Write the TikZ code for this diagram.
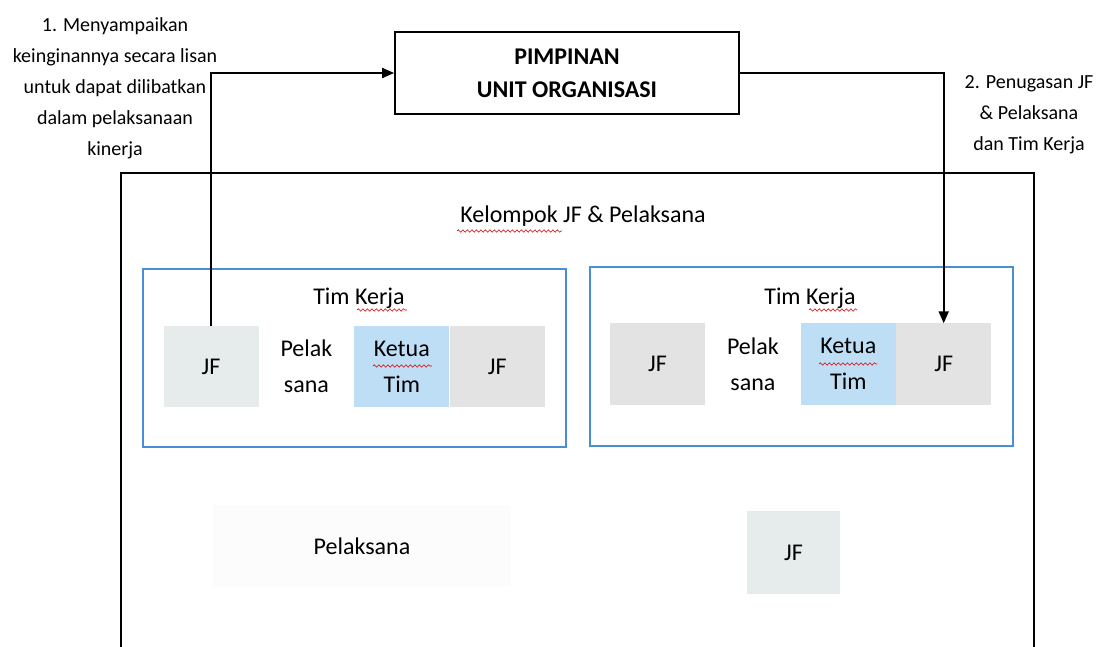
\documentclass[tikz,border=0pt]{standalone}
\usepackage{fontspec}
\setmainfont{Carlito}
\usetikzlibrary{arrows.meta,positioning,decorations.pathmorphing}
\definecolor{timblue}{HTML}{4A8FD6}
\definecolor{jfgrey}{HTML}{E6EBEB}
\definecolor{jfgreytwo}{HTML}{E3E3E3}
\definecolor{ketuablue}{HTML}{BEDEF6}
\tikzset{
    %Define standard arrow tip
    >={Triangle[length=12pt,width=10pt]},
    %Define style for boxes
    pimpinan/.style={
           rectangle,
           draw=black, line width=1.8pt,
           minimum width=344pt,
           minimum height=82pt,
           font=\fontsize{24}{33}\selectfont\bfseries,
           align=center},
    timbox/.style={
           rectangle,
           draw=timblue, line width=2pt,
           minimum width=423pt,
           minimum height=178pt},
    cell/.style={
           rectangle,
           inner sep=0pt,
           minimum width=95pt,
           minimum height=81pt,
           font=\fontsize{24}{36}\selectfont,
           align=center},
    jfcell/.style={cell, fill=jfgrey},
    jfcelltwo/.style={cell, fill=jfgreytwo},
    ketuacell/.style={cell, fill=ketuablue},
    judul/.style={
           font=\fontsize{24}{30}\selectfont},
    note/.style={
           font=\fontsize{20}{31}\selectfont,
           align=center},
    % Define arrow style
    alur/.style={
           ->,
           draw=black,
           line width=2pt},
    salah/.style={
           red!85!black, line width=0.6pt,
           decorate,
           decoration={snake, amplitude=1.2pt, segment length=4.5pt}}
}
\begin{document}
\begin{tikzpicture}[x=1pt,y=-1pt]
\useasboundingbox (0,0) rectangle (1096,647);
% pimpinan
\node[pimpinan] (pimpinan) at (567,73) {PIMPINAN\\UNIT ORGANISASI};
% kelompok JF & pelaksana
\draw[line width=1.8pt] (121,647) -- (121,173) -- (1034,173) -- (1034,647);
\node[judul] (kelompok) at (583,216) {Kelompok JF \& Pelaksana};
% tim kerja kiri
\node[timbox] (timA) at (354.5,358) {};
\node[judul] (judulA) at (359,298) {Tim Kerja};
\node[jfcell] (jfA) at (211,366.5) {JF};
\node[cell, right=0pt of jfA] (pelakA) {Pelak\\sana};
\node[ketuacell, right=0pt of pelakA] (ketuaA) {Ketua\\Tim};
\node[jfcelltwo, right=0pt of ketuaA] (jfB) {JF};
% tim kerja kanan
\node[timbox] (timB) at (801,356.5) {};
\node[judul] (judulB) at (810,298) {Tim Kerja};
\node[jfcelltwo] (jfC) at (657.5,364) {JF};
\node[cell, right=0pt of jfC] (pelakB) {Pelak\\sana};
\node[ketuacell, right=0pt of pelakB] (ketuaB) {Ketua\\Tim};
\node[jfcelltwo, right=0pt of ketuaB] (jfD) {JF};
% bawah
\node[cell, fill=black!1, minimum width=298pt, minimum height=82pt] (pelaksana) at (362,546) {Pelaksana};
\node[jfcell, minimum width=93pt, minimum height=83pt] (jfE) at (793.5,552.5) {JF};
% keterangan
\node[note] (ketSatu) at (115,88) {1. Menyampaikan\\keinginannya secara lisan\\untuk dapat dilibatkan\\dalam pelaksanaan\\kinerja};
\node[note] (ketDua) at (1029,115) {2. Penugasan JF\\\& Pelaksana\\dan Tim Kerja};
% alur
\draw[alur] (jfA.north) |- (pimpinan.west);
\draw[alur] (pimpinan.east) -| (jfD.north);
% garis salah ketik
\draw[salah] (457,231) -- (562,231);
\draw[salah] (357,310) -- (407,310);
\draw[salah] (809,310) -- (857,310);
\draw[salah] (373,366) -- (432,366);
\draw[salah] (819,364) -- (877,364);
\end{tikzpicture}
\end{document}
